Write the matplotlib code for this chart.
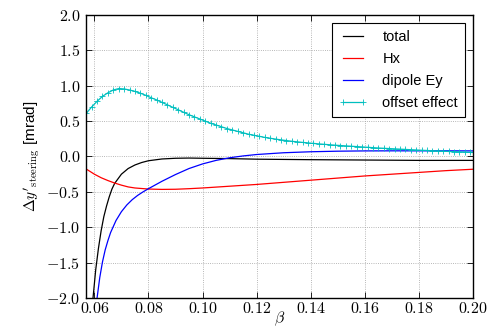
import numpy as np
import matplotlib
matplotlib.use("Agg")
import matplotlib.pyplot as plt
from matplotlib.ticker import FuncFormatter

# ---------------- data ----------------
beta_total = [0.0569, 0.0580, 0.0590, 0.0595, 0.0605, 0.0615, 0.0625, 0.0635,
              0.0645, 0.0655, 0.0665, 0.0675, 0.0700, 0.0725, 0.0750, 0.0775,
              0.0800, 0.0850, 0.0900, 0.0950, 0.1000, 0.1100, 0.1200, 0.1400,
              0.1600, 0.1800, 0.2000]
total = [-4.0, -3.0, -2.3, -2.0, -1.6, -1.3, -1.05, -0.85,
         -0.70, -0.57, -0.46, -0.38, -0.25, -0.17, -0.12, -0.085,
         -0.06, -0.035, -0.025, -0.022, -0.025, -0.03, -0.038, -0.045,
         -0.05, -0.055, -0.055]

beta_hx = [0.0569, 0.0600, 0.0625, 0.0650, 0.0675, 0.0700, 0.0725, 0.0750,
           0.0800, 0.0850, 0.0900, 0.0950, 0.1000, 0.1100, 0.1200, 0.1300,
           0.1400, 0.1500, 0.1600, 0.1700, 0.1800, 0.1900, 0.2000]
hx = [-0.175, -0.25, -0.30, -0.34, -0.375, -0.405, -0.43, -0.445,
      -0.46, -0.465, -0.463, -0.455, -0.445, -0.42, -0.395, -0.365,
      -0.335, -0.305, -0.275, -0.25, -0.225, -0.20, -0.18]

beta_dip = [0.0569, 0.0572, 0.0590, 0.0600, 0.0610, 0.0620, 0.0630, 0.0640,
            0.0650, 0.0660, 0.0680, 0.0700, 0.0720, 0.0740, 0.0760, 0.0780,
            0.0800, 0.0850, 0.0900, 0.0950, 0.1000, 0.1050, 0.1100, 0.1150,
            0.1200, 0.1300, 0.1400, 0.1500, 0.1600, 0.1700, 0.1800, 0.1900,
            0.2000]
dipole = [0.0, -12.0, -3.0, -2.41, -2.0, -1.71, -1.49, -1.32,
          -1.19, -1.075, -0.905, -0.78, -0.685, -0.61, -0.55, -0.50,
          -0.455, -0.35, -0.255, -0.17, -0.105, -0.055, -0.018, 0.008,
          0.028, 0.053, 0.067, 0.075, 0.079, 0.08, 0.08, 0.08,
          0.079]

beta_off = [0.057, 0.059, 0.061, 0.063, 0.065, 0.067, 0.069, 0.071, 0.073,
            0.075, 0.077, 0.079, 0.081, 0.083, 0.085, 0.087, 0.089, 0.091,
            0.093, 0.095, 0.097, 0.099, 0.101, 0.103, 0.105, 0.107, 0.109,
            0.111, 0.113, 0.115, 0.117, 0.119, 0.121, 0.123, 0.125, 0.127,
            0.129, 0.131, 0.133, 0.135, 0.137, 0.139, 0.141, 0.143, 0.145,
            0.147, 0.149, 0.151, 0.153, 0.155, 0.157, 0.159, 0.161, 0.163,
            0.165, 0.167, 0.169, 0.171, 0.173, 0.175, 0.177, 0.179, 0.181,
            0.183, 0.185, 0.187, 0.189, 0.191, 0.193, 0.195, 0.197, 0.199,
            0.201]
offset = [0.61, 0.70, 0.78, 0.85, 0.90, 0.94, 0.96, 0.955, 0.94,
          0.92, 0.895, 0.865, 0.83, 0.80, 0.765, 0.73, 0.695, 0.66,
          0.625, 0.59, 0.56, 0.53, 0.50, 0.47, 0.445, 0.42, 0.395,
          0.375, 0.355, 0.335, 0.315, 0.30, 0.285, 0.27, 0.258, 0.246,
          0.235, 0.225, 0.215, 0.207, 0.199, 0.192, 0.185, 0.178, 0.172,
          0.166, 0.160, 0.155, 0.150, 0.145, 0.140, 0.135, 0.130, 0.125,
          0.120, 0.116, 0.112, 0.108, 0.104, 0.100, 0.096, 0.092, 0.088,
          0.085, 0.081, 0.078, 0.075, 0.071, 0.068, 0.065, 0.062, 0.058,
          0.055]

labels = ["total", "Hx", "dipole Ey", "offset effect"]
xticks = [0.06, 0.08, 0.10, 0.12, 0.14, 0.16, 0.18, 0.20]
yticks = [-2.0, -1.5, -1.0, -0.5, 0.0, 0.5, 1.0, 1.5, 2.0]

# ---------------- plot ----------------
plt.rcParams["mathtext.fontset"] = "cm"
plt.rcParams["font.family"] = ["Liberation Sans", "DejaVu Sans"]

fig = plt.figure(figsize=(4.95, 3.31), dpi=100)
ax = fig.add_axes([0.1737, 0.0997, 0.9556 - 0.1737, 0.9547 - 0.0997])

ax.plot(beta_total, total, color="k", lw=0.9, label=labels[0])
ax.plot(beta_hx, hx, color="#ff0000", lw=0.9, label=labels[1])
ax.plot(beta_dip, dipole, color="#0000ff", lw=0.9, label=labels[2])
ax.plot(beta_off, offset, color="#00bfbf", lw=0.9, marker="+", ms=4.5,
        mew=0.6, label=labels[3])

ax.set_xlim(0.0569, 0.2)
ax.set_ylim(-2.0, 2.0)
ax.set_xticks(xticks)
ax.set_yticks(yticks)
ax.xaxis.set_major_formatter(FuncFormatter(lambda v, p: r"$%.2f$" % v))
ax.yaxis.set_major_formatter(FuncFormatter(lambda v, p: r"$%.1f$" % v))
ax.tick_params(direction="in", top=True, right=True, length=4, width=0.6,
               labelsize=11.5)
ax.tick_params(axis="x", pad=2.5)
ax.tick_params(axis="y", pad=4)

ax.grid(True, color="#a0a0a0", linestyle=":", linewidth=0.6)
for s in ax.spines.values():
    s.set_linewidth(1.0)

ax.set_xlabel(r"$\beta$", fontsize=11.5, labelpad=-5)
ax.set_ylabel(r"$\Delta y'_{\rm steering}$ [mrad]", fontsize=11, labelpad=3)

leg = ax.legend(loc="upper right", numpoints=2, fancybox=False,
                edgecolor="k", framealpha=1, fontsize=10.5,
                handlelength=2.0, borderpad=0.45, labelspacing=0.55,
                handletextpad=1.0, bbox_to_anchor=(0.997, 0.996))
leg.get_frame().set_linewidth(0.8)

fig.savefig("out.png", dpi=100)
